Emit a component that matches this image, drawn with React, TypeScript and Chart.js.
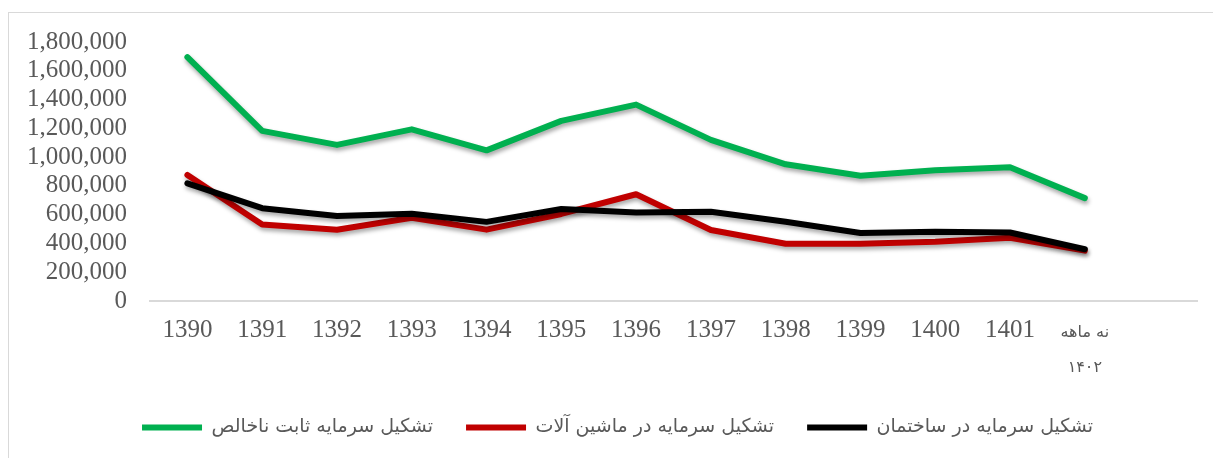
import React, { useEffect, useRef } from "react";
import { Chart, registerables } from "chart.js";

Chart.register(...registerables);

const categories: (string | string[])[] = [
  "1390", "1391", "1392", "1393", "1394", "1395", "1396",
  "1397", "1398", "1399", "1400", "1401", ["نه ماهه", "۱۴۰۲"], "",
];

const grossFixed = [1695000, 1182000, 1085000, 1193000, 1047000, 1252000, 1365000, 1120000, 950000, 870000, 908000, 930000, 715000];
const machinery = [876000, 532000, 495000, 578000, 496000, 605000, 742000, 493000, 398000, 398000, 412000, 440000, 350000];
const construction = [818000, 645000, 591000, 607000, 550000, 639000, 615000, 620000, 551000, 472000, 482000, 476000, 360000];

const seriesNames = [
  "تشکیل سرمایه ثابت ناخالص",
  "تشکیل سرمایه در ماشین آلات",
  "تشکیل سرمایه در ساختمان",
];

const yMin = 0;
const yMax = 1800000;
const yStep = 200000;

const shadowPlugin = {
  id: "lineShadow",
  beforeDatasetsDraw(chart: any) {
    const ctx = chart.ctx;
    ctx.save();
    ctx.shadowColor = "rgba(0,0,0,0.35)";
    ctx.shadowBlur = 4;
    ctx.shadowOffsetX = 1;
    ctx.shadowOffsetY = 3;
  },
  afterDatasetsDraw(chart: any) {
    chart.ctx.restore();
  },
};

const legendShift = {
  id: "legendShift",
  afterLayout(chart: any) {
    if (chart.legend) {
      chart.legend.left += 19;
      chart.legend.right += 19;
    }
  },
};

export default function App() {
  const ref = useRef<HTMLCanvasElement | null>(null);

  useEffect(() => {
    if (!ref.current) return;
    const common = {
      fill: false,
      borderWidth: 6,
      pointRadius: 0,
      pointHoverRadius: 0,
      tension: 0,
      borderCapStyle: "round" as const,
      borderJoinStyle: "round" as const,
      pointStyle: "line" as const,
    };
    const chart = new Chart(ref.current, {
      type: "line",
      data: {
        labels: categories as any,
        datasets: [
          { ...common, label: seriesNames[0], data: grossFixed, borderColor: "#00B050", backgroundColor: "#00B050", order: 2 },
          { ...common, label: seriesNames[1], data: machinery, borderColor: "#C00000", backgroundColor: "#C00000", order: 1 },
          { ...common, label: seriesNames[2], data: construction, borderColor: "#000000", backgroundColor: "#000000", order: 0 },
        ],
      },
      options: {
        responsive: false,
        animation: false,
        devicePixelRatio: 1,
        layout: { padding: { left: 0, right: 16, top: 42, bottom: 11 } },
        plugins: {
          tooltip: { enabled: false },
          legend: {
            position: "bottom",
            reverse: true,
            labels: {
              usePointStyle: true,
              pointStyleWidth: 60,
              padding: 33,
              color: "#595959",
              font: { family: "'DejaVu Sans', sans-serif", size: 19 },
            },
          },
        },
        scales: {
          x: {
            offset: true,
            grid: { display: false, drawTicks: false },
            border: { display: true, color: "#d9d9d9", width: 2 },
            afterFit: (scale: any) => {
              scale.height = 84;
            },
            ticks: {
              autoSkip: false,
              maxRotation: 0,
              padding: 14,
              color: "#595959",
              font: (ctx: any) =>
                ctx.index === 12
                  ? { family: "'DejaVu Sans', sans-serif", size: 16, lineHeight: 2.2 }
                  : { family: "'Liberation Serif', serif", size: 25, lineHeight: 1.2 },
            },
          },
          y: {
            min: yMin,
            max: yMax,
            grid: { display: false, drawTicks: false },
            border: { display: false },
            afterFit: (scale: any) => {
              scale.width = 150;
            },
            ticks: {
              stepSize: yStep,
              autoSkip: false,
              padding: 23,
              color: "#595959",
              font: { family: "'Liberation Serif', serif", size: 25 },
              callback: (v: any) => Number(v).toLocaleString("en-US"),
            },
          },
        },
      },
      plugins: [shadowPlugin, legendShift],
    });
    return () => chart.destroy();
  }, []);

  return (
    <div>
      <div
        style={{
          position: "fixed",
          left: 8,
          top: 12,
          width: 1205,
          height: 446,
          borderTop: "1px solid #d9d9d9",
          borderLeft: "1px solid #d9d9d9",
          boxSizing: "border-box",
          background: "#fff",
        }}
      />
      <canvas
        ref={ref}
        width={1213}
        height={458}
        style={{ position: "fixed", left: 0, top: 0, width: 1213, height: 458 }}
      />
    </div>
  );
}
